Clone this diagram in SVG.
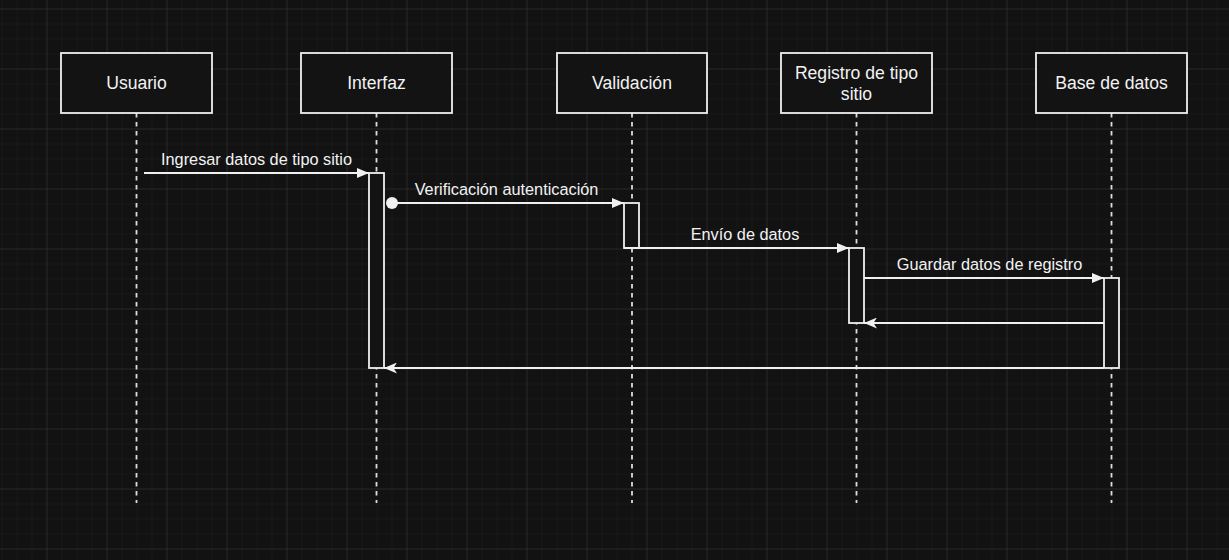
<svg xmlns="http://www.w3.org/2000/svg" width="1229" height="560" viewBox="0 0 1229 560">
<defs>
<pattern id="minor" x="1.5" y="8.5" width="15" height="15" patternUnits="userSpaceOnUse">
<path d="M0 0H15M0 0V15" fill="none" stroke="#202020" stroke-width="1"/>
</pattern>
<pattern id="major" x="46.5" y="8.5" width="60" height="60" patternUnits="userSpaceOnUse">
<path d="M0 0H60M0 0V60" fill="none" stroke="#343434" stroke-width="1"/>
</pattern>
<marker id="block" viewBox="0 0 12 10" refX="12" refY="5" markerWidth="12" markerHeight="10" markerUnits="userSpaceOnUse" orient="auto">
<path d="M0 0L12 5L0 10Z" fill="#f0f0f0"/>
</marker>
<marker id="classic" viewBox="0 0 13 11" refX="13" refY="5.5" markerWidth="13" markerHeight="11" markerUnits="userSpaceOnUse" orient="auto">
<path d="M0 0L13 5.5L0 11L3.5 5.5Z" fill="#f0f0f0"/>
</marker>
</defs>
<style>
.box{fill:#131313;stroke:#f0f0f0;stroke-width:1.8}
.life{stroke:#dcdcdc;stroke-width:1.8;stroke-dasharray:4.5 4.5;fill:none}
.act{fill:#131313;stroke:#f0f0f0;stroke-width:1.8}
.msg{stroke:#f0f0f0;stroke-width:1.8;fill:none}
.h{font-family:"Liberation Sans",Arial,sans-serif;font-size:17.6px;fill:#f2f2f2;text-anchor:middle}
.l{font-family:"Liberation Sans",Arial,sans-serif;font-size:16.3px;fill:#f2f2f2;text-anchor:middle}
</style>
<rect width="1229" height="560" fill="#121212"/>
<rect width="1229" height="560" fill="url(#minor)"/>
<rect width="1229" height="560" fill="url(#major)"/>

<g id="lifelines">
<line class="life" x1="136.5" y1="113" x2="136.5" y2="503"/>
<line class="life" x1="376.5" y1="113" x2="376.5" y2="503"/>
<line class="life" x1="632" y1="113" x2="632" y2="503"/>
<line class="life" x1="856.5" y1="113" x2="856.5" y2="503"/>
<line class="life" x1="1111.5" y1="113" x2="1111.5" y2="503"/>
</g>

<g id="usuario">
<rect class="box" x="61" y="53" width="151" height="60"/>
<text class="h" x="136.5" y="89">Usuario</text>
</g>
<g id="interfaz">
<rect class="box" x="301" y="53" width="151" height="60"/>
<text class="h" x="376.5" y="89">Interfaz</text>
</g>
<g id="validacion">
<rect class="box" x="557" y="53" width="150" height="60"/>
<text class="h" x="632" y="89">Validación</text>
</g>
<g id="registro">
<rect class="box" x="781" y="53" width="151" height="60"/>
<text class="h" x="856.5" y="78.5">Registro de tipo</text>
<text class="h" x="856.5" y="100">sitio</text>
</g>
<g id="base">
<rect class="box" x="1036" y="53" width="151" height="60"/>
<text class="h" x="1111.5" y="89">Base de datos</text>
</g>

<g id="activations">
<rect id="act-interfaz" class="act" x="369" y="173" width="15" height="195"/>
<rect id="act-validacion" class="act" x="624" y="203" width="15" height="45"/>
<rect id="act-registro" class="act" x="849" y="248" width="15" height="75"/>
<rect id="act-base" class="act" x="1104" y="278" width="15" height="90"/>
</g>

<g id="connectors">
<line class="msg" x1="144" y1="173" x2="369" y2="173" marker-end="url(#block)"/>
<circle cx="392" cy="203" r="6" fill="#f0f0f0"/>
<line class="msg" x1="392" y1="203" x2="624" y2="203" marker-end="url(#block)"/>
<line class="msg" x1="624" y1="248" x2="849" y2="248" marker-end="url(#block)"/>
<line class="msg" x1="864" y1="278" x2="1104" y2="278" marker-end="url(#block)"/>
<line class="msg" x1="1104" y1="323" x2="864" y2="323" marker-end="url(#classic)"/>
<line class="msg" x1="1104" y1="368" x2="384" y2="368" marker-end="url(#classic)"/>
</g>

<g id="labels">
<text class="l" x="256.5" y="165">Ingresar datos de tipo sitio</text>
<text class="l" x="506.5" y="194.5">Verificación autenticación</text>
<text class="l" x="745" y="239.5">Envío de datos</text>
<text class="l" x="989.5" y="269.5">Guardar datos de registro</text>
</g>
</svg>
